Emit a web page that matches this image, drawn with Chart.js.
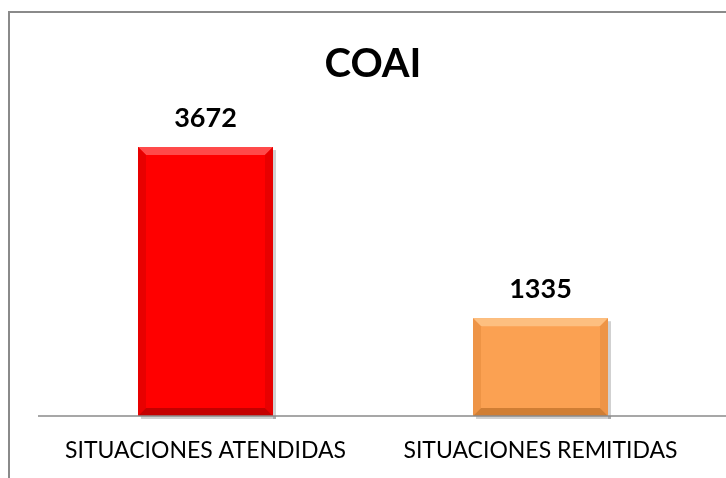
<!DOCTYPE html>
<html lang="es">
  <head>
    <meta charset="UTF-8" />
    <title>COAI</title>
    <script src="https://cdn.jsdelivr.net/npm/chart.js"></script>
    <style>
      body { margin: 0; background: #fff; overflow: hidden; }
      #marco {
        position: absolute; left: 8px; top: 11px;
        width: 900px; height: 700px;
        border: 2px solid #8a8a8a;
      }
      #wrap { position: absolute; left: 0; top: 0; width: 726px; height: 478px; }
    </style>
  </head>
  <body>
    <div id="marco"></div>
    <div id="wrap"><canvas id="grafico"></canvas></div>
    <script>
      // datos
      const categorias = ["SITUACIONES ATENDIDAS", "SITUACIONES REMITIDAS"];
      const valores = [3672, 1335];
      const colores = ["#ff0000", "#fba152"];
      const bisel = [
        { top: "#ff4a4a", side: "#e80000", bottom: "#c40000" },
        { top: "#fdbf80", side: "#ee9446", bottom: "#d07e34" },
      ];

      // bisel de las barras + etiquetas de valor
      const biselPlugin = {
        id: "bisel",
        afterDatasetsDraw(chart) {
          const ctx = chart.ctx;
          const meta = chart.getDatasetMeta(0);
          meta.data.forEach((bar, i) => {
            const l = bar.x - bar.width / 2, r = bar.x + bar.width / 2;
            const t = bar.y, b = bar.base, d = 8;
            const c = bisel[i];
            ctx.save();
            // sombra
            ctx.fillStyle = "rgba(0,0,0,0.18)";
            ctx.fillRect(r, t + 3, 3, b - t);
            ctx.fillRect(l + 3, b, r - l, 3);
            ctx.fillStyle = c.top;
            ctx.beginPath();
            ctx.moveTo(l, t); ctx.lineTo(r, t); ctx.lineTo(r - d, t + d); ctx.lineTo(l + d, t + d);
            ctx.fill();
            ctx.fillStyle = c.side;
            ctx.beginPath();
            ctx.moveTo(l, t); ctx.lineTo(l + d, t + d); ctx.lineTo(l + d, b - d); ctx.lineTo(l, b);
            ctx.fill();
            ctx.beginPath();
            ctx.moveTo(r, t); ctx.lineTo(r - d, t + d); ctx.lineTo(r - d, b - d); ctx.lineTo(r, b);
            ctx.fill();
            ctx.fillStyle = c.bottom;
            ctx.beginPath();
            ctx.moveTo(l, b); ctx.lineTo(l + d, b - d); ctx.lineTo(r - d, b - d); ctx.lineTo(r, b);
            ctx.fill();

            ctx.fillStyle = "#000";
            ctx.font = "bold 27px Lato";
            ctx.textAlign = "center";
            ctx.textBaseline = "middle";
            ctx.fillText(String(valores[i]), bar.x, t - 29);
            ctx.restore();
          });
          // linea base hasta el borde
          const y = chart.scales.y.getPixelForValue(0);
          ctx.save();
          ctx.strokeStyle = "#8a8a8a";
          ctx.lineWidth = 1.5;
          ctx.beginPath();
          ctx.moveTo(chart.chartArea.left, y);
          ctx.lineTo(726, y);
          ctx.stroke();
          ctx.restore();
        },
      };

      const ctxGrafico = document.getElementById("grafico").getContext("2d");
      const grafico = new Chart(ctxGrafico, {
        type: "bar",
        data: {
          labels: categorias,
          datasets: [
            {
              data: valores,
              backgroundColor: colores,
              borderWidth: 0,
              barPercentage: 0.403,
              categoryPercentage: 1,
            },
          ],
        },
        options: {
          responsive: true,
          maintainAspectRatio: false,
          animation: false,
          layout: { padding: { left: 38, right: 18, top: 0, bottom: 0 } },
          plugins: {
            legend: { display: false },
            tooltip: { enabled: false },
            title: {
              display: true,
              text: "COAI",
              color: "#000",
              font: { family: "Lato", size: 40, weight: "bold" },
              padding: { top: 40, bottom: 35 },
            },
          },
          scales: {
            x: {
              grid: { display: false },
              border: { display: false },
              afterFit(scale) { scale.height = 62; },
              ticks: {
                color: "#000",
                padding: 13,
                font: { family: "Lato", size: 23 },
              },
            },
            y: { display: false, min: 0, max: 4000 },
          },
        },
        plugins: [biselPlugin],
      });
    </script>
  </body>
</html>
